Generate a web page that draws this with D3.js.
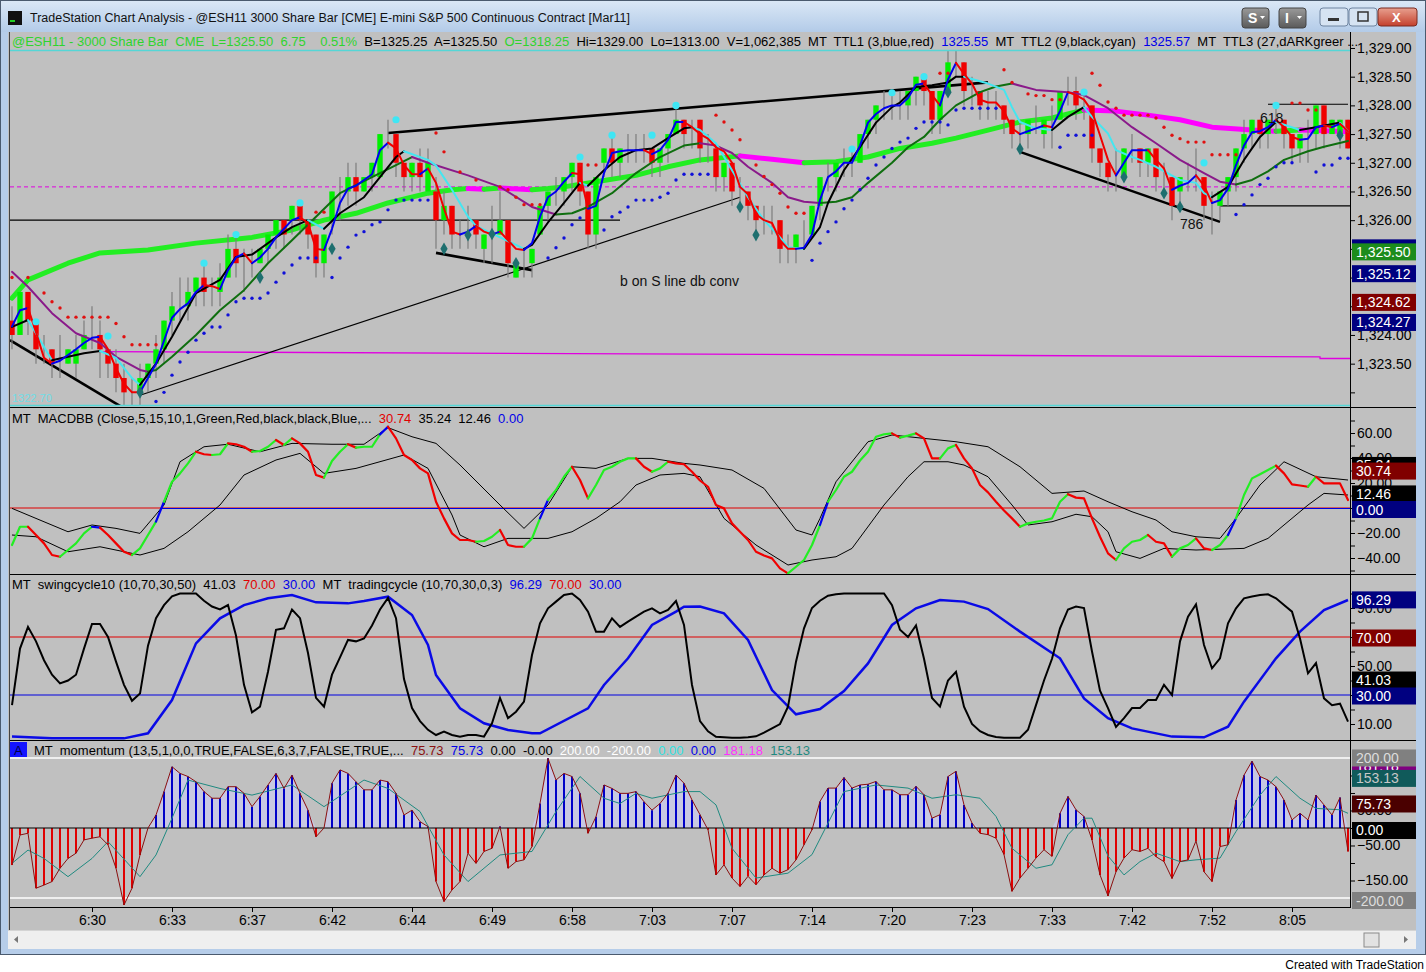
<!DOCTYPE html>
<html>
<head>
<meta charset="utf-8">
<script src="https://cdn.jsdelivr.net/npm/d3@7"></script>
<style>
  body { margin: 0; background: #fff; }
  svg { display: block; }
  text { font-family: "Liberation Sans", Arial, sans-serif; }
</style>
</head>
<body>
<svg id="chart" width="1426" height="972"></svg>
<script>
// ---------- data (bar index 0..167, 3000 share bars) ----------
const barOpen = [
  1324.25,1324.0,1324.75,1324.25,1323.75,1323.75,1323.5,1323.5,1323.5,1323.75,
  1324.0,1324.0,1323.75,1323.5,1323.25,1323.0,1323.0,1323.25,1323.5,1323.75,
  1324.25,1324.5,1324.5,1324.75,1325.0,1324.75,1324.75,1325.0,1325.5,1325.25,
  1325.25,1325.25,1325.5,1325.75,1326.0,1326.0,1326.25,1326.0,1325.75,1325.25,
  1326.0,1326.5,1326.5,1326.75,1326.5,1326.75,1326.75,1327.5,1327.5,1327.0,
  1326.75,1327.0,1326.5,1326.5,1326.0,1326.25,1325.75,1325.75,1326.0,1325.5,
  1325.75,1325.75,1326.0,1325.0,1325.25,1325.25,1325.75,1326.25,1326.5,1326.5,
  1326.75,1327.0,1326.5,1325.75,1327.0,1327.25,1327.0,1327.25,1327.25,1327.25,
  1327.25,1327.0,1327.25,1327.5,1327.75,1327.5,1327.75,1327.25,1327.25,1326.75,
  1327.0,1326.5,1326.5,1326.25,1326.0,1326.0,1326.0,1325.5,1325.5,1325.75,
  1325.75,1326.25,1326.75,1326.75,1327.0,1327.0,1327.0,1327.5,1327.75,1328.0,
  1328.0,1328.0,1328.0,1328.25,1328.5,1328.25,1327.75,1328.25,1328.75,1328.75,
  1328.25,1328.25,1328.0,1328.0,1328.0,1327.75,1327.5,1327.5,1327.75,1327.5,
  1327.75,1327.75,1328.25,1328.25,1328.0,1328.0,1327.25,1327.0,1326.75,1326.75,
  1327.25,1327.25,1327.0,1327.25,1326.75,1326.75,1326.5,1326.75,1326.75,1326.75,
  1326.25,1326.25,1326.5,1326.75,1327.25,1327.5,1327.75,1327.5,1327.75,1327.75,
  1327.5,1327.25,1327.5,1327.5,1328.0,1327.5,1327.5,1327.75
];
const barHigh = [
  1324.5,1324.75,1324.75,1324.25,1324.0,1323.75,1324.0,1323.75,1324.0,1324.25,
  1324.5,1324.25,1323.75,1323.75,1323.5,1323.25,1323.5,1323.5,1324.0,1324.25,
  1324.75,1325.0,1325.0,1325.0,1325.25,1325.0,1325.25,1325.75,1325.75,1325.5,
  1325.5,1325.5,1325.75,1326.0,1326.0,1326.25,1326.25,1326.0,1325.75,1325.75,
  1326.5,1326.75,1327.0,1327.0,1326.75,1327.0,1327.5,1327.75,1327.5,1327.0,
  1327.0,1327.25,1327.25,1326.75,1326.5,1326.25,1326.0,1326.25,1326.0,1325.75,
  1326.25,1326.5,1326.0,1325.25,1325.5,1325.5,1326.25,1326.5,1326.75,1326.75,
  1327.0,1327.0,1326.5,1326.75,1327.25,1327.5,1327.25,1327.5,1327.5,1327.5,
  1327.25,1327.25,1327.5,1328.0,1327.75,1327.75,1327.75,1327.5,1327.25,1327.0,
  1327.0,1326.75,1326.5,1326.25,1326.25,1326.25,1326.0,1325.75,1325.75,1326.0,
  1326.25,1326.75,1327.0,1327.0,1327.25,1327.25,1327.5,1327.75,1328.0,1328.25,
  1328.25,1328.25,1328.25,1328.5,1328.5,1328.25,1328.25,1329.0,1329.0,1328.75,
  1328.5,1328.25,1328.25,1328.25,1328.0,1327.75,1327.75,1327.75,1328.0,1327.75,
  1328.0,1328.25,1328.5,1328.5,1328.25,1328.0,1327.25,1327.0,1327.25,1327.25,
  1327.5,1327.25,1327.25,1327.25,1327.0,1326.75,1326.75,1327.0,1327.25,1326.75,
  1326.5,1326.5,1326.75,1327.25,1327.75,1327.75,1327.75,1327.75,1328.0,1327.75,
  1327.5,1327.5,1327.75,1328.0,1328.0,1327.75,1327.75,1327.75
];
const barLow = [
  1323.75,1324.0,1324.0,1323.5,1323.5,1323.25,1323.25,1323.5,1323.25,1323.75,
  1323.75,1323.25,1323.25,1323.0,1322.75,1322.75,1322.75,1323.0,1323.25,1323.5,
  1324.0,1324.25,1324.25,1324.5,1324.5,1324.5,1324.5,1325.0,1325.0,1324.75,
  1325.0,1325.25,1325.25,1325.5,1325.5,1325.75,1325.75,1325.5,1325.0,1325.0,
  1325.75,1326.0,1326.25,1326.25,1326.5,1326.5,1326.75,1327.25,1326.75,1326.5,
  1326.5,1326.5,1326.5,1325.5,1325.75,1325.5,1325.5,1325.5,1325.5,1325.25,
  1325.25,1325.75,1325.0,1325.0,1325.0,1325.0,1325.75,1326.0,1326.25,1326.25,
  1326.5,1326.25,1325.5,1325.5,1326.75,1326.75,1326.75,1327.0,1327.0,1327.0,
  1326.75,1326.75,1327.0,1327.5,1327.25,1327.25,1327.0,1327.0,1326.5,1326.5,
  1326.25,1326.25,1326.0,1325.75,1325.75,1325.75,1325.25,1325.25,1325.25,1325.5,
  1325.75,1326.0,1326.5,1326.5,1326.75,1326.75,1327.0,1327.25,1327.5,1327.75,
  1327.75,1327.75,1327.75,1328.0,1328.0,1327.5,1327.5,1328.25,1328.5,1328.0,
  1328.0,1327.75,1327.75,1327.75,1327.5,1327.25,1327.25,1327.25,1327.5,1327.25,
  1327.25,1327.75,1328.0,1327.75,1327.75,1327.0,1326.75,1326.5,1326.5,1326.75,
  1327.0,1326.75,1326.75,1326.5,1326.5,1326.0,1326.25,1326.5,1326.5,1326.0,
  1325.75,1326.0,1326.25,1326.5,1327.0,1327.25,1327.25,1327.25,1327.5,1327.25,
  1327.0,1327.0,1327.0,1327.25,1327.25,1327.5,1327.25,1327.25
];
const barClose = [
  1324.0,1324.75,1324.25,1323.75,1323.75,1323.5,1323.5,1323.75,1323.75,1324.0,
  1324.0,1323.75,1323.5,1323.25,1323.0,1323.0,1323.25,1323.5,1323.75,1324.25,
  1324.5,1324.5,1324.75,1325.0,1324.75,1324.75,1325.0,1325.5,1325.25,1325.25,
  1325.25,1325.5,1325.75,1326.0,1325.75,1326.25,1326.0,1325.75,1325.25,1325.75,
  1326.5,1326.5,1326.75,1326.5,1326.75,1327.0,1327.5,1327.5,1327.0,1326.75,
  1327.0,1326.75,1327.0,1326.0,1326.25,1325.75,1325.75,1325.75,1325.75,1325.75,
  1325.75,1326.0,1325.25,1325.25,1325.25,1325.5,1326.25,1326.5,1326.5,1326.75,
  1327.0,1326.5,1325.75,1326.75,1327.25,1327.0,1327.25,1327.25,1327.25,1327.25,
  1327.0,1327.25,1327.5,1327.75,1327.5,1327.5,1327.25,1327.25,1326.75,1327.0,
  1326.5,1326.5,1326.25,1326.0,1326.0,1326.0,1325.5,1325.5,1325.75,1325.75,
  1326.25,1326.75,1326.75,1327.0,1327.0,1327.0,1327.5,1327.75,1328.0,1328.0,
  1328.0,1328.0,1328.25,1328.5,1328.25,1327.75,1328.25,1328.75,1328.75,1328.25,
  1328.25,1328.0,1328.0,1328.0,1327.75,1327.5,1327.5,1327.75,1327.75,1327.75,
  1327.75,1328.25,1328.25,1328.0,1328.0,1327.25,1327.0,1326.75,1326.75,1327.25,
  1327.25,1327.0,1327.25,1326.75,1326.75,1326.25,1326.75,1326.75,1326.75,1326.25,
  1326.25,1326.5,1326.75,1327.25,1327.5,1327.75,1327.5,1327.75,1327.75,1327.5,
  1327.25,1327.5,1327.5,1328.0,1327.5,1327.75,1327.75,1327.25
];

// MT TTL1 (3) - per bar
const ttl1 = [
  1324.15,1324.43,1324.47,1324.05,1323.6,1323.5,1323.55,1323.65,1323.75,1323.86,
  1323.95,1323.97,1323.75,1323.42,1323.15,1323.0,1323.0,1323.25,1323.5,1323.9,
  1324.3,1324.45,1324.55,1324.75,1324.87,1324.85,1324.8,1325.13,1325.35,1325.42,
  1325.25,1325.35,1325.5,1325.7,1325.85,1326.0,1326.05,1325.95,1325.5,1325.48,
  1325.85,1326.3,1326.55,1326.6,1326.7,1326.8,1327.22,1327.35,1327.25,1326.96,
  1326.8,1326.8,1326.9,1326.65,1326.2,1325.8,1325.75,1325.8,1325.9,1325.8,
  1325.75,1325.8,1325.65,1325.5,1325.48,1325.6,1326.06,1326.4,1326.5,1326.67,
  1326.82,1326.8,1326.2,1326.25,1326.82,1327.17,1327.2,1327.22,1327.22,1327.22,
  1327.15,1327.22,1327.4,1327.71,1327.71,1327.62,1327.5,1327.42,1327.27,1327.2,
  1327.0,1326.58,1326.45,1326.1,1326.0,1325.95,1325.65,1325.5,1325.5,1325.52,
  1325.75,1326.35,1326.75,1326.85,1327.0,1327.0,1327.3,1327.7,1327.85,1327.95,
  1328.0,1328.0,1328.13,1328.36,1328.38,1328.18,1328.0,1328.45,1328.74,1328.55,
  1328.38,1328.1,1328.05,1328.05,1327.9,1327.6,1327.5,1327.55,1327.6,1327.65,
  1327.62,1327.9,1328.23,1328.18,1328.1,1327.9,1327.48,1327.05,1326.78,1327.0,
  1327.22,1327.22,1327.22,1327.05,1326.9,1326.53,1326.6,1326.65,1326.78,1326.6,
  1326.3,1326.35,1326.55,1326.96,1327.3,1327.53,1327.55,1327.62,1327.75,1327.62,
  1327.45,1327.4,1327.42,1327.62,1327.65,1327.62,1327.68,1327.55
];
// MT TTL2 (9) - [bar, price]
const ttl2 = [[0,1324.14],[2,1324.26],[5,1323.56],[7,1323.62],[9,1323.68],[11,1323.72],[13,1323.6],[15,1323.25],[16,1323.13],[18,1323.5],[20,1323.97],[23,1324.73],[26,1324.96],[28,1325.36],[30,1325.4],[33,1325.7],[35,1325.88],[37,1326.0],[39,1325.85],[41,1326.12],[44,1326.4],[46,1326.75],[48,1327.1],[49,1327.2],[52,1327.05],[53,1326.95],[55,1326.53],[57,1326.06],[58,1325.9],[61,1325.7],[63,1325.57],[64,1325.5],[65,1325.57],[67,1325.96],[69,1326.3],[71,1326.65],[72,1326.6],[74,1326.87],[76,1327.1],[78,1327.22],[80,1327.25],[82,1327.43],[84,1327.6],[85,1327.62],[86,1327.57],[88,1327.34],[90,1326.87],[92,1326.4],[94,1326.0],[96,1325.7],[97,1325.53],[99,1325.5],[101,1325.88],[102,1326.3],[104,1326.87],[106,1327.27],[108,1327.7],[110,1327.97],[111,1328.05],[113,1328.32],[115,1328.35],[117,1328.4],[118,1328.5],[119,1328.5],[122,1328.38],[124,1328.27],[125,1327.97],[126,1327.71],[128,1327.6],[130,1327.57],[132,1327.8],[134,1327.97],[135,1327.8],[137,1327.51],[138,1327.22],[140,1327.1],[141,1327.05],[143,1326.93],[146,1326.7],[148,1326.65],[149,1326.47],[150,1326.4],[152,1326.58],[154,1327.05],[156,1327.45],[158,1327.71],[161,1327.57],[163,1327.62],[166,1327.7],[167,1327.55]];
// MT TTL3 (27)
const ttl3 = [[0,1325.1],[2,1324.84],[5,1324.38],[8,1324.03],[11,1323.86],[13,1323.62],[16,1323.39],[17,1323.36],[18,1323.39],[20,1323.62],[23,1324.0],[26,1324.43],[29,1324.78],[32,1325.25],[35,1325.65],[38,1326.06],[41,1326.47],[45,1326.75],[48,1326.96],[50,1327.1],[52,1327.0],[57,1326.78],[61,1326.58],[65,1326.23],[68,1326.1],[70,1326.12],[72,1326.23],[75,1326.47],[78,1326.82],[81,1327.1],[84,1327.3],[86,1327.34],[88,1327.3],[90,1327.17],[92,1326.93],[95,1326.65],[97,1326.4],[99,1326.32],[101,1326.3],[103,1326.32],[105,1326.4],[107,1326.65],[110,1327.0],[112,1327.27],[114,1327.45],[116,1327.75],[118,1328.0],[121,1328.23],[123,1328.33],[125,1328.38],[128,1328.27],[132,1328.23],[134,1328.18],[137,1327.95],[140,1327.62],[143,1327.34],[146,1327.05],[149,1326.82],[151,1326.67],[153,1326.62],[155,1326.7],[157,1326.85],[159,1327.05],[162,1327.2],[164,1327.28],[167,1327.38]];
// long average (thick)
const longAvg = [[0,1324.64],[2,1324.96],[7,1325.25],[11,1325.43],[17,1325.48],[23,1325.6],[30,1325.7],[35,1325.83],[39,1326.0],[43,1326.12],[47,1326.3],[52,1326.47],[55,1326.53],[57,1326.55],[59,1326.54],[61,1326.56],[65,1326.53],[67,1326.55],[69,1326.58],[73,1326.67],[78,1326.78],[82,1326.93],[86,1327.05],[91,1327.12],[95,1327.06],[99,1327.0],[103,1327.02],[107,1327.1],[111,1327.25],[115,1327.34],[118,1327.43],[122,1327.57],[126,1327.71],[130,1327.78],[134,1327.92],[138,1327.9],[142,1327.83],[146,1327.75],[150,1327.62],[155,1327.57],[158,1327.55],[161,1327.57],[164,1327.56],[167,1327.54]];

const redDots = [[0,1325.0],[2,1325.0],[4,1324.73],[5,1324.58],[6,1324.47],[7,1324.31],[8,1324.31],[9,1324.31],[10,1324.31],[11,1324.31],[12,1324.31],[13,1324.2],[14,1323.97],[15,1323.83],[16,1323.83],[17,1323.83],[18,1323.83],[38,1326.14],[39,1326.14],[53,1327.52],[54,1327.19],[56,1326.84],[58,1326.7],[61,1326.58],[62,1326.53],[63,1326.4],[64,1326.27],[65,1326.27],[66,1326.27],[71,1326.96],[72,1326.96],[73,1326.96],[88,1327.83],[89,1327.71],[90,1327.57],[91,1327.4],[93,1326.96],[94,1326.76],[95,1326.62],[96,1326.47],[97,1326.23],[98,1326.12],[99,1326.12],[116,1328.56],[117,1328.56],[124,1328.62],[125,1328.4],[127,1328.2],[128,1328.17],[129,1328.17],[130,1328.1],[131,1328.1],[135,1328.56],[136,1328.35],[137,1328.06],[138,1327.95],[139,1327.83],[140,1327.83],[141,1327.83],[142,1327.83],[143,1327.78],[144,1327.62],[145,1327.48],[146,1327.42],[147,1327.36],[148,1327.36],[149,1327.36],[150,1327.14],[151,1327.14],[152,1327.14],[153,1327.14],[160,1328.04],[161,1328.04],[162,1327.92],[163,1327.92]];
const blueDots = [[18,1322.84],[19,1323.0],[20,1323.3],[21,1323.53],[22,1323.7],[23,1323.91],[24,1324.03],[25,1324.14],[26,1324.14],[27,1324.35],[28,1324.58],[29,1324.64],[30,1324.64],[31,1324.64],[32,1324.73],[33,1324.92],[34,1325.08],[35,1325.22],[36,1325.34],[37,1325.34],[38,1325.34],[40,1325.0],[41,1325.34],[42,1325.53],[43,1325.74],[44,1325.8],[45,1325.92],[46,1325.97],[47,1326.18],[48,1326.35],[49,1326.35],[50,1326.35],[51,1326.35],[52,1326.35],[67,1325.34],[68,1325.52],[69,1325.69],[70,1325.92],[71,1326.04],[74,1325.83],[75,1326.06],[76,1326.14],[77,1326.23],[78,1326.35],[79,1326.35],[80,1326.35],[81,1326.4],[82,1326.47],[83,1326.7],[84,1326.8],[85,1326.8],[86,1326.8],[87,1326.8],[100,1325.3],[101,1325.6],[102,1325.8],[103,1325.97],[104,1326.2],[105,1326.35],[106,1326.53],[107,1326.73],[108,1326.96],[109,1327.1],[110,1327.25],[111,1327.36],[112,1327.43],[113,1327.6],[114,1327.71],[115,1327.71],[116,1327.71],[117,1327.66],[118,1327.92],[119,1327.95],[120,1327.95],[121,1327.95],[122,1327.95],[123,1327.95],[131,1327.27],[132,1327.48],[133,1327.48],[134,1327.48],[135,1327.48],[153,1326.1],[154,1326.27],[155,1326.44],[156,1326.62],[157,1326.73],[158,1326.93],[159,1327.0],[160,1327.0],[163,1326.84],[164,1326.96],[165,1326.96],[166,1327.08],[167,1327.08]];
const swingHighs = [[3,1324.23],[12,1323.98],[24,1325.25],[28,1325.75],[36,1326.3],[48,1327.75],[71,1327.1],[75,1327.48],[80,1327.48],[83,1328.0],[105,1327.24],[110,1328.22],[114,1328.5],[134,1328.23],[149,1327.0],[158,1328.0]];
const swingLows = [[16,1323.0],[31,1325.0],[40,1325.5],[54,1325.5],[57,1325.74],[60,1325.76],[63,1325.25],[91,1326.23],[93,1325.74],[117,1328.23],[126,1327.24],[139,1326.75],[144,1326.47],[146,1326.23],[166,1327.48]];

// drawn trendlines / levels: [bar, price] pairs
const thickLines = [
  [[-0.25,1323.91],[13.9,1322.73]],
  [[47,1327.52],[122,1328.4]],
  [[53,1325.43],[65,1325.13]],
  [[126,1327.19],[151,1325.97]]
];
const thinLines = [
  [[16,1322.95],[91,1326.4]],
  [[-0.25,1326.0],[76,1326.0]],
  [[151,1326.25],[167.3,1326.25]],
  [[157,1328.02],[167,1328.02]]
];
const magentaLevel = [[11,1323.71],[163.5,1323.62],[163.5,1323.59],[167.3,1323.59]];
const magentaDashLevel = 1326.58;
const notes = [["b on S line db conv",76,1324.86],["786",146,1325.85],["618",156,1327.69]];

// MACDBB
const macd = [
  -29.6,-15,-15,-21.6,-28.3,-37.6,-39,-33.6,-28.3,-20.3,
  -15,-15.7,-21.6,-28.3,-35,-37.6,-32.3,-21.6,-10.9,5,
  21,27.7,35.7,45,43,42.4,43,51.7,51,49,
  45,45.6,49,54.4,50.4,55.7,51.7,45,26.4,24.3,
  37.6,45,51,48.3,49,49,58.9,65,55.7,42.4,
  38.4,31.7,27.7,5,-8.3,-20.3,-25.6,-25.6,-27,-26.4,
  -23,-17.6,-29.6,-31,-31,-24.3,-8.3,6.4,14.4,25,
  33,22.4,7.7,18.4,30.4,33,37,39.7,39.7,33,
  29,31.7,37,35.7,35,29,22,17,2.4,-0.3,
  -12.3,-19,-25.6,-35,-38,-40.3,-48.3,-52.3,-47,-41.6,
  -29.6,-13.6,5,14.4,25,29,38,45,57,59,
  59.7,56.3,57.9,59.7,55.7,39.7,39.7,47.7,50.4,39.7,
  31.7,18.4,12.5,5,-2,-8.3,-15,-12.3,-11,-10,
  -8.3,5,11,8.3,7.7,-8.3,-23,-36.3,-41.6,-32.3,
  -27,-25.6,-21.6,-27,-28.3,-39,-32.3,-29.6,-24.3,-32.3,
  -33.6,-29.6,-21.6,-8.3,10.4,23.7,27,30.4,33.9,27.7,
  18.9,18,17,25,19.7,19.7,19.7,6.4
];
const macdBlueSegs = [11,19,47,67,102,153];
const macdUpper = [[0,-0.3],[4,-11],[7,-19],[10,-13.6],[13,-16.3],[16,-20.3],[19,2.4],[21,37],[24,49],[27,51],[31,45],[35,51.7],[40,51],[44,51],[47,64.3],[50,57],[53,51.7],[56,34.4],[61,2.4],[64,-16.3],[67,2.4],[70,33],[73,31.7],[77,39.7],[80,39.7],[84,35.7],[86,34.4],[90,30.4],[94,15.7],[98,-17.6],[100,-21.6],[101,-8.3],[103,21],[107,53],[110,58.4],[114,55.7],[118,53],[122,49],[126,33],[130,11.7],[134,13.6],[137,5],[140,-3],[143,-9.6],[145,-19],[148,-23],[151,-24.3],[153,-8.3],[156,18.4],[159,37],[163,25],[165,23.7],[167,22.4]];
const macdLower = [[0,-21.6],[3,-23],[7,-35],[11,-31],[16,-37.6],[19,-32.3],[22,-19],[26,2.4],[29,26.4],[33,38.4],[36,43.7],[39,27.7],[43,31.7],[49,42.4],[52,31.7],[55,-5.6],[56,-21.6],[59,-31],[62,-24.3],[67,-24.3],[70,-19],[73,-8.3],[76,5],[78,18.4],[81,26.4],[84,27.7],[86,25],[89,-8.3],[93,-29.6],[97,-45.6],[100,-41.6],[103,-39],[105,-32.3],[109,2.4],[112,25],[114,37],[117,37],[119,34.4],[122,25],[125,2.4],[127,-13.6],[130,-11],[133,-5],[135,-7],[137,-19],[138,-35],[141,-40.3],[144,-32.3],[148,-33.6],[154,-32.3],[157,-24.3],[159,-13.6],[162,2.4],[164,11.7],[167,10.4]];
const macdZeroBlue = [[18.5,88.5],[153.5,167.3]];

// swingcycle10 / tradingcycle
const swingCycle = [
  23,62,77,67,54,44,38,40,44,62,
  79,79,70,53,37,26,31,64,83,92,
  98,100,100,100,95,91,89,92,71,37,
  18,22,46,75,76,89,83,59,28,22,
  44,56,68,67,69,78,89,97,83,41,
  21,12,6,2.4,4.7,2.4,1.3,2.4,2.4,1.3,
  10.5,28,14,18.5,25.4,57.6,79.4,89.8,94.4,99,
  100,95.5,87.5,73.7,73.7,82.9,77,80.6,84,87.5,
  89.8,86.3,88.6,94.8,78.3,36.9,12,5,1.2,0.8,
  0.5,0.5,0.8,1.5,4,7,10,22,53,76,
  90,95,98.5,99.5,100,100,100,100,100,100,
  92,75,70,78,55,28,22,40,46,22,
  10,5,2.4,1,0.5,0.5,0.5,6,23,40,
  55,76,89,91,90,60,33,21,8,14,
  21,21,26.5,26.5,37,30,67,84,92.5,64.5,
  48.4,55.3,79.4,89.8,96.7,98,99,99.4,96.7,92,
  87.5,69,45,52,27.7,23,24,11.6
];
const tradingCycle = [[0,1.3],[5,0.1],[14,0.1],[17,3.6],[20,26.5],[23,65.6],[26,82.9],[29,92],[32,96.7],[35,99],[38,93.9],[42,93.2],[44,94.8],[47,97.8],[50,85.2],[52,64.5],[53,43.8],[56,20.8],[59,10.5],[62,5.9],[65,3.6],[66,3.6],[72,20.8],[74,36.9],[77,55.3],[80,78.3],[83,87.5],[84,90.9],[86,91],[89,86.3],[92,68],[95,33.4],[98,16.7],[101,20.3],[104,32.7],[107,51.8],[110,78.3],[113,89.8],[116,95.5],[119,94.4],[122,89.3],[126,73.7],[131,55.3],[134,27.7],[137,14],[140,7],[145,1.3],[149,0.8],[152,8.1],[154,25.4],[158,55.3],[161,73.7],[164,88.6],[167,95.5]];

// momentum
const momentum = [
  -106,-20,-15,-172,-163,-153,-115,-87,-72,-34,
  -29,-25,-48,-115,-220,-172,-77,0,37,104,
  175,156,147,132,104,85,85,118,118,99,
  61,90,123,156,113,151,99,51,-25,0,
  128,166,156,132,109,109,137,132,99,37,
  51,18,4,-153,-210,-177,-153,-72,-101,-67,
  -58,4,-115,-96,-91,-53,70,199,137,156,
  147,99,-15,32,123,113,99,99,104,75,
  51,70,99,151,128,80,38,-5,-134,-105,
  -143,-167,-138,-162,-134,-115,-129,-119,-91,-48,
  -5,76,114,114,144,114,123,125,133,109,
  109,95,95,119,95,28,38,147,162,66,
  14,-15,-19,-29,-76,-181,-143,-115,-86,-62,
  -81,42,90,52,33,-34,-134,-194,-125,-86,
  -62,-67,-58,-82,-96,-144,-96,-91,-37,-125,
  -153,-53,-48,80,151,191,147,137,118,80,
  23,42,23,94,66,37,87,-67
];
const momSignal = [[0,-101],[2,-63],[4,-87],[7,-139],[10,-87],[12,-39],[16,-139],[18,-77],[20,28],[22,137],[26,113],[30,94],[35,123],[39,61],[44,137],[47,113],[51,47],[54,-77],[57,-153],[61,-77],[65,-67],[68,47],[71,147],[74,85],[76,70],[78,99],[80,85],[84,104],[86,104],[88,66],[90,-58],[93,-143],[97,-129],[100,-76],[102,14],[104,104],[108,123],[112,114],[115,85],[118,95],[121,85],[123,33],[125,-58],[128,-115],[130,-105],[132,-19],[134,28],[135,28],[137,-80],[139,-134],[141,-96],[143,-72],[146,-96],[148,-91],[151,-86],[153,-10],[156,94],[158,147],[161,85],[163,56],[166,52],[167,42]];

const timeBars = [10,20,30,40,50,60,70,80,90,100,110,120,130,140,150,160];
const timeLabels = ["6:30","6:33","6:37","6:42","6:44","6:49","6:58","7:03","7:07","7:14","7:20","7:23","7:33","7:42","7:52","8:05"];

const priceTicks = d3.range(1323.0, 1329.01, 0.5);
const priceLabels = [1323.5,1324.0,1326.0,1326.5,1327.0,1327.5,1328.0,1328.5,1329.0];
const macdTicks = d3.range(-50, 71, 10), macdLabels = [60,40,20,-20,-40];
const swingTicks = d3.range(10, 101, 10), swingLabels = [90,50,10];
const momTicks = d3.range(-150, 151, 50), momLabels = [50,-50,-150];

// last-value markers on the right axis: [value, text, box colour]
const priceMarks = [[1325.57,"","#000080"],[1325.50,"1,325.50","#1c8c1c"],[1325.12,"1,325.12","#000080"],[1324.62,"1,324.62","#800000"],[1324.27,"1,324.27","#000080"]];
const macdMarks = [[35.24,"35.24","#000000"],[30.74,"30.74","#800000"],[12.46,"12.46","#000000"],[0,"0.00","#000080"]];
const swingMarks = [[96.29,"96.29","#000080"],[70,"70.00","#800000"],[41.03,"41.03","#000000"],[30,"30.00","#000080"]];
const momMarks = [[181.18,"181.18","#800080"],[200,"200.00","#808080"],[153.13,"153.13","#105a5a"],[75.73,"75.73","#4a0000"],[0,"0.00","#000000"],[-200,"-200.00","#808080"]];

// ---------- layout ----------
const svg = d3.select("#chart");
const W = 1426, plotL = 10, plotR = 1350, axisR = 1416;

const x = d3.scaleLinear().domain([0, 167]).range([12, 1348]);
const yP = d3.scaleLinear().domain([1322.745, 1329.261]).range([407, 33]);
const yM = d3.scaleLinear().domain([-52.8, 80]).range([574, 408]);
const yS = d3.scaleLinear().domain([-1.03, 112.76]).range([740, 575]);
const yMo = d3.scaleLinear().domain([-225.7, 251.4]).range([907, 740]);

const defs = svg.append("defs");
const tg = defs.append("linearGradient").attr("id", "titleGrad").attr("x1", 0).attr("y1", 0).attr("x2", 0).attr("y2", 1);
tg.append("stop").attr("offset", "0%").attr("stop-color", "#dbe8f6");
tg.append("stop").attr("offset", "100%").attr("stop-color", "#b3cbe8");
const bg = defs.append("linearGradient").attr("id", "btnGrad").attr("x1", 0).attr("y1", 0).attr("x2", 0).attr("y2", 1);
bg.append("stop").attr("offset", "0%").attr("stop-color", "#9a9a9a");
bg.append("stop").attr("offset", "100%").attr("stop-color", "#5a5a5a");
const cg = defs.append("linearGradient").attr("id", "closeGrad").attr("x1", 0).attr("y1", 0).attr("x2", 0).attr("y2", 1);
cg.append("stop").attr("offset", "0%").attr("stop-color", "#e8a08f");
cg.append("stop").attr("offset", "100%").attr("stop-color", "#c4402c");

function clip(id, y0, y1) {
  defs.append("clipPath").attr("id", id).append("rect")
    .attr("x", plotL).attr("y", y0).attr("width", plotR - plotL).attr("height", y1 - y0);
}
clip("cpP", 51, 405); clip("cpM", 408, 574); clip("cpS", 575, 740); clip("cpMo", 741, 907);

// window frame
svg.append("rect").attr("x", 0).attr("y", 0).attr("width", W).attr("height", 955).attr("fill", "#b6cde9");
svg.append("rect").attr("x", 0).attr("y", 0).attr("width", W).attr("height", 32).attr("fill", "url(#titleGrad)");
svg.append("rect").attr("x", 0.5).attr("y", 0.5).attr("width", W - 1).attr("height", 954).attr("fill", "none").attr("stroke", "#4a5a6e");
svg.append("rect").attr("x", 8).attr("y", 11).attr("width", 14).attr("height", 14).attr("fill", "#111");
svg.append("rect").attr("x", 10).attr("y", 20).attr("width", 5).attr("height", 2).attr("fill", "#2c2");
svg.append("text").attr("x", 30).attr("y", 22).attr("font-size", 12.5).attr("fill", "#111")
  .text("TradeStation Chart Analysis - @ESH11 3000 Share Bar [CME] E-mini S&P 500 Continuous Contract [Mar11]");

[[1242, "S"], [1279, "I"]].forEach(([bx, t]) => {
  svg.append("rect").attr("x", bx).attr("y", 8).attr("width", 27).attr("height", 20).attr("rx", 3).attr("fill", "url(#btnGrad)").attr("stroke", "#444");
  svg.append("text").attr("x", bx + 6).attr("y", 23).attr("font-size", 14).attr("font-weight", "bold").attr("fill", "#fff").text(t);
  svg.append("path").attr("d", `M${bx + 18},16 l5,0 l-2.5,3 z`).attr("fill", "#fff");
});
[[1320, 28], [1349, 28]].forEach(([bx, bw]) => {
  svg.append("rect").attr("x", bx).attr("y", 8).attr("width", bw).attr("height", 18).attr("rx", 3).attr("fill", "#d6e3f2").attr("stroke", "#6f84a0");
});
svg.append("rect").attr("x", 1328).attr("y", 18).attr("width", 11).attr("height", 3).attr("fill", "#333");
svg.append("rect").attr("x", 1358).attr("y", 12).attr("width", 10).attr("height", 9).attr("fill", "none").attr("stroke", "#333").attr("stroke-width", 1.5);
svg.append("rect").attr("x", 1378).attr("y", 8).attr("width", 39).attr("height", 18).attr("rx", 3).attr("fill", "url(#closeGrad)").attr("stroke", "#7a2a20");
svg.append("text").attr("x", 1392).attr("y", 22).attr("font-size", 13).attr("font-weight", "bold").attr("fill", "#fff").text("X");

// chart body + scroll row
svg.append("rect").attr("x", 8).attr("y", 32).attr("width", axisR - 8).attr("height", 898).attr("fill", "#c0c0c0");
svg.append("rect").attr("x", 8).attr("y", 930).attr("width", axisR - 8).attr("height", 19).attr("fill", "#efefef");
svg.append("line").attr("x1", 8).attr("x2", axisR).attr("y1", 930.5).attr("y2", 930.5).attr("stroke", "#d4d4d4");
svg.append("rect").attr("x", 1364).attr("y", 933).attr("width", 15).attr("height", 14).attr("fill", "#e2e2e2").attr("stroke", "#8a8a8a");
svg.append("path").attr("d", "M18,936 l-4,3.5 l4,3.5 z").attr("fill", "#777");
svg.append("path").attr("d", "M1404,936 l4,3.5 l-4,3.5 z").attr("fill", "#777");
svg.append("text").attr("x", 1424).attr("y", 969).attr("text-anchor", "end").attr("font-size", 12).attr("fill", "#000")
  .text("Created with TradeStation");

// ---------- helpers ----------
function lineGen(ys) { return d3.line().x(d => x(d[0])).y(d => ys(d[1])); }

function colouredLine(g, pts, ys, pick, width) {
  const gen = lineGen(ys);
  const runs = [];
  let cur = null, prev = null;
  for (let i = 1; i < pts.length; i++) {
    const c = pick(pts[i - 1], pts[i], prev, i);
    prev = c;
    if (!cur || cur.c !== c) { cur = { c, p: [pts[i - 1]] }; runs.push(cur); }
    cur.p.push(pts[i]);
  }
  runs.forEach(r => g.append("path").attr("d", gen(r.p)).attr("fill", "none")
    .attr("stroke", r.c).attr("stroke-width", width).attr("stroke-linejoin", "round").attr("stroke-linecap", "round"));
}
const slope = (up, dn) => (a, b, prev) => b[1] > a[1] ? up : b[1] < a[1] ? dn : (prev || up);
const idx = arr => arr.map((v, i) => [i, v]);

function hline(g, ys, v, col, w, dash) {
  g.append("line").attr("x1", plotL).attr("x2", plotR).attr("y1", ys(v)).attr("y2", ys(v))
    .attr("stroke", col).attr("stroke-width", w || 1).attr("stroke-dasharray", dash || null);
}

function header(xp, yp, parts) {
  const t = svg.append("text").attr("x", xp).attr("y", yp).attr("font-size", 13).style("white-space", "pre");
  parts.forEach(([s, c]) => t.append("tspan").attr("fill", c).text(s));
}

function rightAxis(ys, ticks, labels, fmt) {
  const g = svg.append("g").attr("transform", `translate(${plotR},0)`);
  g.call(d3.axisRight(ys).tickValues(ticks).tickSize(5).tickFormat(d => labels.some(l => Math.abs(l - d) < 1e-6) ? fmt(d) : ""));
  g.select(".domain").remove();
  g.attr("font-size", 14).attr("font-family", '"Liberation Sans", Arial, sans-serif');
  g.selectAll("text").attr("x", 7).attr("fill", "#000");
}

function marks(ys, list, nudge, extra) {
  list.forEach(([v, t, col]) => {
    const cy = ys(v) + nudge + ((extra && extra[t]) || 0);
    svg.append("rect").attr("x", plotR + 2).attr("y", cy - 8.5).attr("width", axisR - plotR - 2).attr("height", 17).attr("fill", col);
    if (t) svg.append("text").attr("x", plotR + 6).attr("y", cy + 5).attr("font-size", 14)
      .attr("fill", col === "#808080" ? "#dcdcdc" : (col === "#105a5a" ? "#c8c8c8" : "#fff")).text(t);
  });
}

// ---------- price panel ----------
const gP = svg.append("g").attr("clip-path", "url(#cpP)");
hline(gP, yP, magentaDashLevel, "#e000e0", 1, "4,3");
gP.append("path").attr("d", lineGen(yP)(magentaLevel)).attr("fill", "none").attr("stroke", "#e000e0").attr("stroke-width", 1.3);
thinLines.forEach(l => gP.append("path").attr("d", lineGen(yP)(l)).attr("stroke", "#000").attr("stroke-width", 1.2));
thickLines.forEach(l => gP.append("path").attr("d", lineGen(yP)(l)).attr("stroke", "#000").attr("stroke-width", 2.6));

colouredLine(gP, longAvg, yP, slope("#22ee22", "#ff00ff"), 5);

const bars = d3.range(barClose.length);
gP.selectAll("line.wick").data(bars).join("line").attr("class", "wick")
  .attr("x1", i => x(i)).attr("x2", i => x(i))
  .attr("y1", i => yP(barHigh[i])).attr("y2", i => yP(barLow[i]))
  .attr("stroke", "#7c7c7c").attr("stroke-width", 1.2);
gP.selectAll("rect.body").data(bars.filter(i => barOpen[i] !== barClose[i])).join("rect").attr("class", "body")
  .attr("x", i => x(i) - 2.7).attr("width", 5.4)
  .attr("y", i => yP(Math.max(barOpen[i], barClose[i])))
  .attr("height", i => Math.abs(yP(barOpen[i]) - yP(barClose[i])))
  .attr("fill", i => barClose[i] > barOpen[i] ? "#00f000" : "#f00000");

colouredLine(gP, ttl3, yP, slope("#0f6e0f", "#8a1a8a"), 2);
colouredLine(gP, ttl2, yP, slope("#000000", "#44e6f0"), 2);
colouredLine(gP, idx(ttl1), yP, slope("#0000f0", "#f00000"), 2);

gP.selectAll("circle.rd").data(redDots).join("circle").attr("class", "rd")
  .attr("cx", d => x(d[0])).attr("cy", d => yP(d[1])).attr("r", 1.7).attr("fill", "#e01010");
gP.selectAll("circle.bd").data(blueDots).join("circle").attr("class", "bd")
  .attr("cx", d => x(d[0])).attr("cy", d => yP(d[1])).attr("r", 1.7).attr("fill", "#1010d8");
gP.selectAll("circle.sh").data(swingHighs).join("circle").attr("class", "sh")
  .attr("cx", d => x(d[0])).attr("cy", d => yP(d[1])).attr("r", 3.6).attr("fill", "#3fe6f4");
gP.selectAll("path.sl").data(swingLows).join("path").attr("class", "sl")
  .attr("transform", d => `translate(${x(d[0])},${yP(d[1])})`)
  .attr("d", d3.symbol(d3.symbolDiamond, 46)).attr("fill", "#1e6f6f");

notes.forEach(([t, b, p]) => gP.append("text").attr("x", x(b)).attr("y", yP(p)).attr("font-size", 14)
  .attr("fill", "#111").text(t));
svg.append("text").attr("x", 12).attr("y", 402).attr("font-size", 11).attr("fill", "#70dde6").text("1322.70");

// ---------- MACD panel ----------
const gM = svg.append("g").attr("clip-path", "url(#cpM)");
hline(gM, yM, 0, "#e00000", 1);
macdZeroBlue.forEach(([a, b]) => gM.append("line").attr("x1", x(a)).attr("x2", x(b))
  .attr("y1", yM(0) + 0.5).attr("y2", yM(0) + 0.5).attr("stroke", "#0000e0").attr("stroke-width", 1.2));
[macdUpper, macdLower].forEach(b => gM.append("path").attr("d", lineGen(yM)(b)).attr("fill", "none").attr("stroke", "#000").attr("stroke-width", 1));
colouredLine(gM, idx(macd), yM, (a, b, prev, i) =>
  macdBlueSegs.includes(i) ? "#0000f0" : (b[1] > a[1] ? "#22ee22" : b[1] < a[1] ? "#f00000" : (prev || "#22ee22")), 2.2);

// ---------- swing / trading cycle panel ----------
const gS = svg.append("g").attr("clip-path", "url(#cpS)");
hline(gS, yS, 70, "#e00000", 1);
hline(gS, yS, 30, "#0000e0", 1);
gS.append("path").attr("d", lineGen(yS)(tradingCycle)).attr("fill", "none").attr("stroke", "#0a0ae6").attr("stroke-width", 2.5);
gS.append("path").attr("d", lineGen(yS)(idx(swingCycle))).attr("fill", "none").attr("stroke", "#000").attr("stroke-width", 2);

// ---------- momentum panel ----------
const gMo = svg.append("g").attr("clip-path", "url(#cpMo)");
gMo.append("path").datum(idx(momentum))
  .attr("d", d3.area().x(d => x(d[0])).y0(yMo(0)).y1(d => yMo(Math.max(0, d[1]))))
  .attr("fill", "#c8c8e2");
hline(gMo, yMo, 200, "#ffffff", 1.5);
hline(gMo, yMo, -200, "#ffffff", 1.5);
gMo.selectAll("line.hist").data(idx(momentum)).join("line").attr("class", "hist")
  .attr("x1", d => x(d[0])).attr("x2", d => x(d[0]))
  .attr("y1", yMo(0)).attr("y2", d => yMo(d[1]))
  .attr("stroke", d => d[1] >= 0 ? "#0000c8" : "#e00000").attr("stroke-width", 2);
hline(gMo, yMo, 0, "#000", 1.2);
gMo.append("path").attr("d", lineGen(yMo)(momSignal)).attr("fill", "none").attr("stroke", "#1f8a80").attr("stroke-width", 1);
gMo.append("path").attr("d", lineGen(yMo)(idx(momentum))).attr("fill", "none").attr("stroke", "#8a0f0f").attr("stroke-width", 1);

// ---------- panel borders ----------
svg.append("line").attr("x1", plotL).attr("x2", plotR).attr("y1", 50.5).attr("y2", 50.5).attr("stroke", "#55d6d6").attr("stroke-width", 1.5);
svg.append("line").attr("x1", plotL).attr("x2", plotR).attr("y1", 405.5).attr("y2", 405.5).attr("stroke", "#55d6d6").attr("stroke-width", 1.5);
[407.5, 574.5, 740.5].forEach(yy => svg.append("line").attr("x1", plotL).attr("x2", axisR).attr("y1", yy).attr("y2", yy).attr("stroke", "#000"));
svg.append("line").attr("x1", plotL).attr("x2", plotR).attr("y1", 907.5).attr("y2", 907.5).attr("stroke", "#000");
svg.append("line").attr("x1", plotR + 0.5).attr("x2", plotR + 0.5).attr("y1", 32).attr("y2", 908).attr("stroke", "#000");
svg.append("line").attr("x1", 9.5).attr("x2", 9.5).attr("y1", 32).attr("y2", 930).attr("stroke", "#444");

// ---------- axes ----------
rightAxis(yP, priceTicks, priceLabels, d3.format(",.2f"));
rightAxis(yM, macdTicks, macdLabels, d3.format(".2f"));
rightAxis(yS, swingTicks, swingLabels, d3.format(".2f"));
rightAxis(yMo, momTicks, momLabels, d3.format(".2f"));

const gx = svg.append("g").attr("transform", "translate(0,907)")
  .call(d3.axisBottom(x).tickValues(timeBars).tickSize(5).tickPadding(3).tickFormat((d, i) => timeLabels[i]));
gx.select(".domain").remove();
gx.attr("font-size", 14).attr("font-family", '"Liberation Sans", Arial, sans-serif');
gx.selectAll("text").attr("fill", "#000");

marks(yP, priceMarks, 3);
marks(yM, macdMarks, 1.5);
marks(yS, swingMarks, 1);
marks(yMo, momMarks, 2.5, { "200.00": -2.5, "181.18": -1, "153.13": 1.5 });

// ---------- headers ----------
header(12, 45.5, [
  ["@ESH11 - 3000 Share Bar  CME  L=1325.50  6.75    0.51%", "#2ed42e"],
  ["  B=1325.25  A=1325.50  ", "#000"],
  ["O=1318.25", "#2ed42e"],
  ["  Hi=1329.00  Lo=1313.00  V=1,062,385  MT  TTL1 (3,blue,red)  ", "#000"],
  ["1325.55", "#0000e8"],
  ["  MT  TTL2 (9,black,cyan)  ", "#000"],
  ["1325.57", "#0000e8"],
  ["  MT  TTL3 (27,dARKgreer ...", "#000"]
]);
header(12, 422.5, [
  ["MT  MACDBB (Close,5,15,10,1,Green,Red,black,black,Blue,...  ", "#000"],
  ["30.74", "#e00000"], ["  35.24  12.46  ", "#000"], ["0.00", "#0000e8"]
]);
header(12, 588.5, [
  ["MT  swingcycle10 (10,70,30,50)  41.03  ", "#000"], ["70.00", "#e00000"], ["  ", "#000"], ["30.00", "#0000e8"],
  ["  MT  tradingcycle (10,70,30,0,3)  ", "#000"], ["96.29", "#0000e8"], ["  ", "#000"], ["70.00", "#e00000"],
  ["  ", "#000"], ["30.00", "#0000e8"]
]);
svg.append("rect").attr("x", 10).attr("y", 742).attr("width", 17).attr("height", 15).attr("fill", "#1414ff");
svg.append("text").attr("x", 14).attr("y", 754.5).attr("font-size", 13).attr("fill", "#00004a").text("A");
header(34, 754.5, [
  ["MT  momentum (13,5,1,0,0,TRUE,FALSE,6,3,7,FALSE,TRUE,...  ", "#000"],
  ["75.73", "#8a1010"], ["  ", "#000"], ["75.73", "#0000e8"], ["  0.00  -0.00  ", "#000"],
  ["200.00  -200.00", "#ffffff"], ["  ", "#000"], ["0.00", "#30e0e0"], ["  ", "#000"], ["0.00", "#0000e8"],
  ["  ", "#000"], ["181.18", "#ff30ff"], ["  ", "#000"], ["153.13", "#1f8a80"]
]);
</script>
</body>
</html>
